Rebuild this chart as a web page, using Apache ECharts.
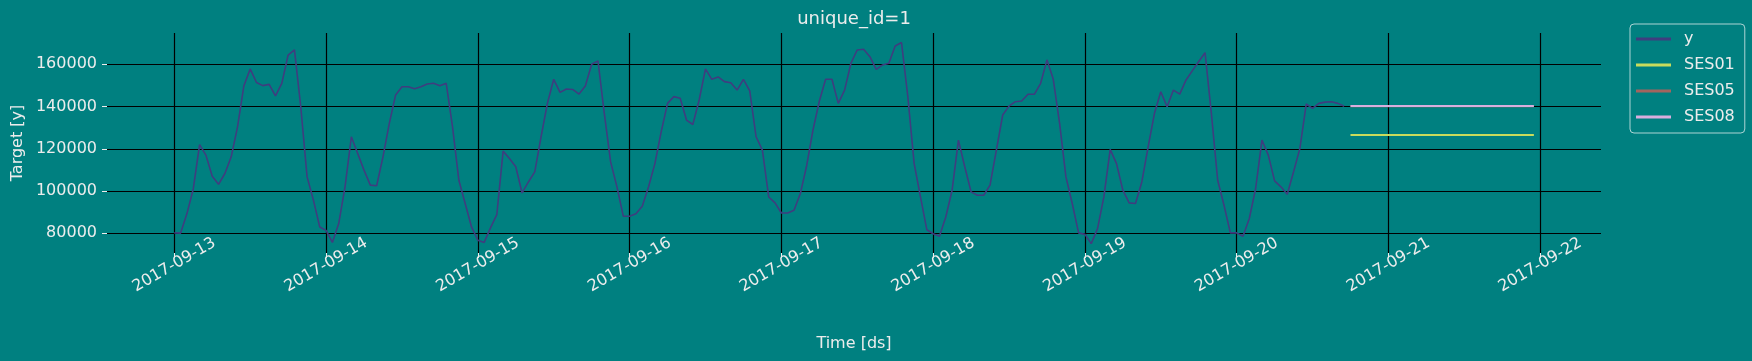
<!DOCTYPE html>
<html>
<head>
<meta charset="utf-8">
<script src="https://cdn.jsdelivr.net/npm/echarts@6/dist/echarts.min.js"></script>
<style>
html,body{margin:0;padding:0;background:#008080;}
#chart{width:1752px;height:361px;}
</style>
</head>
<body>
<div id="chart"></div>
<script>
// Hourly observations starting 2017-09-13 00:00 (index = hours since start)
const startDs = '2017-09-13 00:00';
const yValues = [
  80200, 80100, 89330, 101000, 122000, 117000, 107000, 103200, 108300, 116200, 130400, 149800,
  157800, 151400, 149900, 150500, 145100, 151000, 164400, 166800, 139900, 106700, 95700, 83000,
  81400, 75700, 84600, 102000, 125700, 117800, 109900, 102800, 102500, 116200, 132000, 145500,
  149400, 149400, 148400, 149400, 150700, 151000, 149900, 151000, 130400, 105100, 94100, 83000,
  76700, 75700, 82600, 88800, 118900, 115400, 111500, 99100, 104300, 109100, 125700, 141500,
  152900, 146700, 148300, 148100, 145900, 149700, 160000, 161600, 136800, 113800, 102000, 88100,
  88100, 89300, 92800, 102000, 113000, 128100, 141500, 144700, 143900, 133600, 131500, 143100,
  157800, 152900, 154000, 151800, 151300, 147800, 152900, 147400, 125700, 119400, 97200, 94400,
  89600, 89600, 90900, 98800, 112000, 128900, 142500, 152900, 152900, 141500, 147800, 160500,
  166800, 167100, 163600, 157600, 159700, 160500, 168700, 170300, 144700, 113000, 97200, 81700,
  79800, 78600, 87700, 100400, 124100, 111500, 99600, 98000, 98000, 102800, 119400, 136000,
  140200, 142300, 142600, 145800, 145800, 151000, 162100, 152900, 132000, 106700, 94100, 80200,
  79500, 75100, 82200, 97200, 119700, 113000, 100400, 94400, 94100, 104300, 120900, 136800,
  147000, 139900, 147800, 145900, 152600, 157000, 161300, 165500, 136800, 105100, 93300, 80200,
  80200, 78600, 87000, 101200, 124100, 117000, 104800, 102000, 98500, 109100, 120200, 141200,
  139100, 141500, 142100, 142300, 141500, 140100
];
// Forecast horizon: 30 hours following the last observation
const forecastStart = 186;
const ses01Values = [126500,126500,126500,126500,126500,126500,126500,126500,126500,126500,
  126500,126500,126500,126500,126500,126500,126500,126500,126500,126500,
  126500,126500,126500,126500,126500,126500,126500,126500,126500,126500];
const ses05Values = [140200,140200,140200,140200,140200,140200,140200,140200,140200,140200,
  140200,140200,140200,140200,140200,140200,140200,140200,140200,140200,
  140200,140200,140200,140200,140200,140200,140200,140200,140200,140200];
const ses08Values = [140300,140300,140300,140300,140300,140300,140300,140300,140300,140300,
  140300,140300,140300,140300,140300,140300,140300,140300,140300,140300,
  140300,140300,140300,140300,140300,140300,140300,140300,140300,140300];
const xTickLabels = ['2017-09-13','2017-09-14','2017-09-15','2017-09-16','2017-09-17',
  '2017-09-18','2017-09-19','2017-09-20','2017-09-21','2017-09-22'];
const yTickValues = [80000, 100000, 120000, 140000, 160000];

const FONT = 'DejaVu Sans';
const TXT = '#ececec';

const chart = echarts.init(document.getElementById('chart'), null, {renderer: 'canvas'});

const obs = yValues.map((v, i) => [i, v]);
const fc = arr => arr.map((v, i) => [forecastStart + i, v]);

chart.setOption({
  backgroundColor: '#008080',
  animation: false,
  textStyle: {fontFamily: FONT},
  grid: [
    {left: 174.3, top: 33, width: 1365.9, height: 220},
    {left: 107, top: 64.3, width: 1494, height: 169}
  ],
  xAxis: [
    {
      gridIndex: 0, type: 'value', min: 0, max: 24 * (xTickLabels.length - 1), interval: 24,
      axisLine: {show: false},
      axisTick: {show: true, length: 5, lineStyle: {color: TXT, width: 1}},
      splitLine: {show: true, lineStyle: {color: '#000', width: 1.2}},
      axisLabel: {
        formatter: v => xTickLabels[Math.round(v / 24)],
        rotate: 30, align: 'center', verticalAlign: 'middle', margin: 12,
        color: TXT, fontSize: 16, fontFamily: FONT
      }
    },
    {gridIndex: 1, type: 'value', min: 0, max: 1, show: false}
  ],
  yAxis: [
    {gridIndex: 0, type: 'value', min: 70675, max: 174817, show: false},
    {
      gridIndex: 1, type: 'value', min: yTickValues[0], max: yTickValues[yTickValues.length - 1], interval: 20000,
      axisLine: {show: false},
      axisTick: {show: true, length: 5, lineStyle: {color: TXT, width: 1}},
      splitLine: {show: true, lineStyle: {color: '#000', width: 1.2}},
      axisLabel: {margin: 10, color: TXT, fontSize: 16, fontFamily: FONT, formatter: v => String(v)}
    }
  ],
  legend: {
    orient: 'vertical', left: 1630, top: 24,
    padding: [7, 10, 8, 6],
    itemWidth: 35, itemHeight: 3, itemGap: 10,
    borderColor: 'rgba(230,240,240,0.75)', borderWidth: 1, borderRadius: 4,
    backgroundColor: 'rgba(0,128,128,0.9)',
    textStyle: {color: TXT, fontSize: 16, fontFamily: FONT, lineHeight: 16, padding: [0, 0, 0, 8]},
    data: [
      {name: 'y', icon: 'rect'},
      {name: 'SES01', icon: 'rect'},
      {name: 'SES05', icon: 'rect'},
      {name: 'SES08', icon: 'rect'}
    ]
  },
  graphic: [
    {type: 'text', x: 854, y: 19.5, style: {text: 'unique_id=1', fill: TXT, font: '18px "DejaVu Sans"', textAlign: 'center', textVerticalAlign: 'middle'}},
    {type: 'text', x: 17.5, y: 143, rotation: Math.PI / 2, style: {text: 'Target [y]', fill: TXT, font: '16px "DejaVu Sans"', textAlign: 'center', textVerticalAlign: 'middle'}},
    {type: 'text', x: 854, y: 344, style: {text: 'Time [ds]', fill: TXT, font: '16px "DejaVu Sans"', textAlign: 'center', textVerticalAlign: 'middle'}}
  ],
  series: [
    {name: 'y', type: 'line', xAxisIndex: 0, yAxisIndex: 0, data: obs, showSymbol: false,
      lineStyle: {color: '#3f3d7f', width: 1.6}, itemStyle: {color: '#3f3d7f'}},
    {name: 'SES01', type: 'line', xAxisIndex: 0, yAxisIndex: 0, data: fc(ses01Values), showSymbol: false,
      lineStyle: {color: '#c9dc5c', width: 2}, itemStyle: {color: '#c9dc5c'}},
    {name: 'SES05', type: 'line', xAxisIndex: 0, yAxisIndex: 0, data: fc(ses05Values), showSymbol: false,
      lineStyle: {color: '#a3645e', width: 2}, itemStyle: {color: '#a3645e'}},
    {name: 'SES08', type: 'line', xAxisIndex: 0, yAxisIndex: 0, data: fc(ses08Values), showSymbol: false,
      lineStyle: {color: '#d9aede', width: 2}, itemStyle: {color: '#d9aede'}}
  ]
});
</script>
</body>
</html>
